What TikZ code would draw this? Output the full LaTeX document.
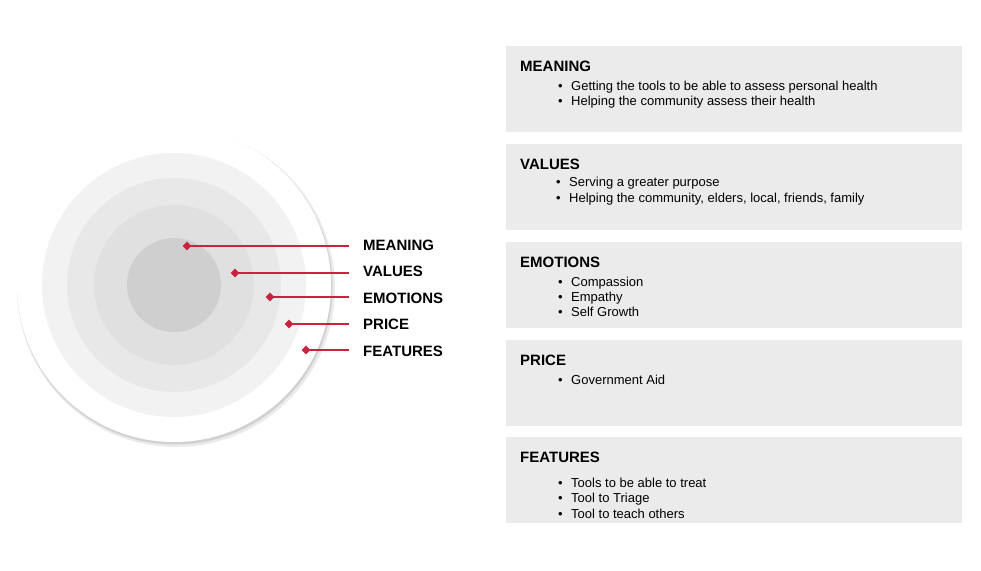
\documentclass[tikz,border=0pt]{standalone}
\usepackage{fontspec}
\setmainfont{Liberation Sans}
\usetikzlibrary{shapes.geometric}
\definecolor{boxg}{HTML}{EBEBEB}
\definecolor{red1}{HTML}{C8243F}
\begin{document}
\begin{tikzpicture}[x=1pt,y=-1pt,
  box/.style={fill=boxg,draw=none},
  title/.style={anchor=base west,font=\bfseries\fontsize{15}{17}\selectfont,inner sep=0},
  item/.style={anchor=base west,font=\fontsize{13}{15}\selectfont,inner sep=0},
  lbl/.style={anchor=base west,font=\bfseries\fontsize{15}{17}\selectfont,inner sep=0},
  dia/.style={diamond,fill=red1,inner sep=0,minimum size=9pt},
  conn/.style={red1,line width=1.2pt}]
\useasboundingbox (0,0) rectangle (981,570);
% circles
\fill[black!8] (176,288) circle (159);
\fill[black!18] (175,287) circle (157.5);
\fill[white] (174,285) circle (157);
\fill[black!5] (174,285) circle (132);
\fill[black!9] (174,285) circle (107);
\fill[black!12] (174,285) circle (80);
\fill[black!19] (174,285) circle (47);
% labels
\foreach \n/\t/\dx/\dy/\ly in {m/MEANING/187/246/250, v/VALUES/235/273/276, e/EMOTIONS/270/297/303, p/PRICE/289/324/329, f/FEATURES/306/350/356}{
  \coordinate (c\n) at (349,\dy);
  \draw[conn] (\dx,\dy) -- (c\n);
  \node[dia] (d\n) at (\dx,\dy) {};
  \node[lbl] (l\n) at (363,\ly) {\t};
}
% boxes
\foreach \y/\t/\n in {46/MEANING/bm,144/VALUES/bv,242/EMOTIONS/be,340/PRICE/bp,437/FEATURES/bf}{
  \fill[box] (506,\y) rectangle (962,\y+86);
  \node[title] (\n) at (520,\y+25) {\t};
}
\newcommand\itm[3]{\node[item] at (558,#2+4) {\textbullet}; \node[item] (#1) at (571,#2+4) {#3};}
\itm{a1}{86}{Getting the tools to be able to assess personal health}
\itm{a2}{101}{Helping the community assess their health}
\node[item] at (556,186) {\textbullet}; \node[item] (b1) at (569,186) {Serving a greater purpose};
\node[item] at (556,202) {\textbullet}; \node[item] (b2) at (569,202) {Helping the community, elders, local, friends, family};
\itm{c1}{282}{Compassion}
\itm{c2}{297}{Empathy}
\itm{c3}{312}{Self Growth}
\itm{p1}{380}{Government Aid}
\itm{f1}{483}{Tools to be able to treat}
\itm{f2}{498}{Tool to Triage}
\itm{f3}{514}{Tool to teach others}
\end{tikzpicture}
\end{document}
